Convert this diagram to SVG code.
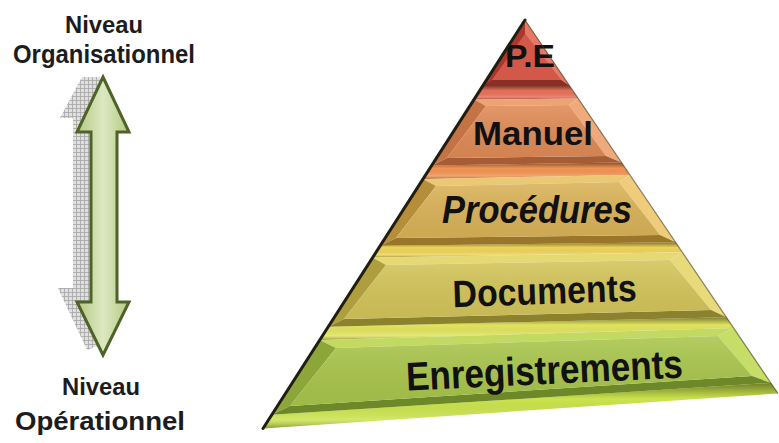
<svg xmlns="http://www.w3.org/2000/svg" width="779" height="443" viewBox="0 0 779 443">
<defs>
<style>
.lbl{font-family:"Liberation Sans",Arial,sans-serif;font-weight:bold;fill:#1c1c1c;text-anchor:middle}
.tier{font-family:"Liberation Sans",Arial,sans-serif;font-weight:bold;fill:#111;text-anchor:middle}
.edge{stroke:#000;stroke-opacity:0.25;stroke-width:0.6}
</style>
<pattern id="grid" width="4" height="4" patternUnits="userSpaceOnUse">
<rect width="4" height="4" fill="#dcdcdc"/>
<path d="M0 0.5H4M0.5 0V4" stroke="#9a9a9a" stroke-width="0.8"/>
</pattern>
<linearGradient id="arrowFill" x1="0" y1="0" x2="1" y2="0">
<stop offset="0" stop-color="#b4ca82"/>
<stop offset="0.5" stop-color="#dce8c2"/>
<stop offset="1" stop-color="#b4ca82"/>
</linearGradient>
<linearGradient id="stripShade" x1="0" y1="0" x2="0" y2="1">
<stop offset="0" stop-color="#000" stop-opacity="0.45"/>
<stop offset="0.35" stop-color="#000" stop-opacity="0"/>
<stop offset="0.8" stop-color="#fff" stop-opacity="0.15"/>
<stop offset="1" stop-color="#000" stop-opacity="0.35"/>
</linearGradient>
<linearGradient id="faceShade" x1="0" y1="0" x2="0" y2="1">
<stop offset="0" stop-color="#fff" stop-opacity="0.12"/>
<stop offset="1" stop-color="#000" stop-opacity="0.06"/>
</linearGradient>
</defs>
<rect width="779" height="443" fill="#fff"/>

<g id="label-top">
<text class="lbl" x="104" y="33" font-size="23" textLength="78" lengthAdjust="spacingAndGlyphs">Niveau</text>
<text class="lbl" x="104" y="63" font-size="25" textLength="182" lengthAdjust="spacingAndGlyphs">Organisationnel</text>
</g>
<g id="label-bottom">
<text class="lbl" x="101" y="395" font-size="23" textLength="78" lengthAdjust="spacingAndGlyphs">Niveau</text>
<text class="lbl" x="100" y="430" font-size="26" textLength="170" lengthAdjust="spacingAndGlyphs">Opérationnel</text>
</g>

<g id="connectors">
<polygon points="82,77 100,77 100,345 87,350 58,288 73,288 73,118 60,118" fill="url(#grid)" opacity="0.9"/>
<polygon points="103,77 129,132 117,132 117,302 129,302 103,355 77,302 91,302 91,132 77,132" fill="url(#arrowFill)" stroke="#4f6228" stroke-width="3" stroke-linejoin="miter"/>
</g>

<g id="pyramid">
<!-- strips (top surfaces) -->
<g id="strips">
<polygon points="482.6,86 569.7,86 578.6,98.5 474.3,99.5" fill="#e8705a"/>
<polygon points="482.6,86 569.7,86 578.6,98.5 474.3,99.5" fill="url(#stripShade)"/>
<polygon points="431.7,165.4 621.6,162.5 630,174.9 422.9,179" fill="#f29454"/>
<polygon points="431.7,165.4 621.6,162.5 630,174.9 422.9,179" fill="url(#stripShade)"/>
<polygon points="380.1,245.7 675.7,242.2 682.5,252.3 372.5,257.6" fill="#eed458"/>
<polygon points="380.1,245.7 675.7,242.2 682.5,252.3 372.5,257.6" fill="url(#stripShade)"/>
<polygon points="328.1,326.7 726.5,317.2 733.8,327.9 319.6,340" fill="#e2e45e"/>
<polygon points="328.1,326.7 726.5,317.2 733.8,327.9 319.6,340" fill="url(#stripShade)"/>
<polygon points="271.4,414.8 771,382.9 778.2,393.5 263,428.5" fill="#cbe44c"/>
<polygon points="271.4,414.8 771,382.9 778.2,393.5 263,428.5" fill="url(#stripShade)"/>
</g>

<g id="tier-pe">
<polygon points="525,20 569.7,86 482.6,86" fill="#c84a3e"/>
<polygon points="525,20 525,34 492,80 482.6,86" fill="#a8382e"/>
<polygon points="525,20 569.7,86 561,80 525,34" fill="#e27a68"/>
<polygon points="482.6,86 569.7,86 561,80 492,80" fill="#8a2e26"/>
<polygon points="525,34 561,80 492,80" fill="#d4584a"/>
<text class="tier" x="530" y="67" font-size="31" textLength="50" lengthAdjust="spacingAndGlyphs">P.E</text>
</g>

<g id="tier-manuel">
<polygon points="474.3,99.5 578.6,98.5 569,105 486,106" fill="#eca474"/>
<polygon points="474.3,99.5 486,106 447,158 431.7,165.4" fill="#c47444"/>
<polygon points="578.6,98.5 621.6,162.5 606,156 569,105" fill="#eeaa7c"/>
<polygon points="431.7,165.4 447,158 606,156 621.6,162.5" fill="#a65c34"/>
<polygon points="486,106 569,105 606,156 447,158" fill="#e08b56"/>
<polygon points="486,106 569,105 606,156 447,158" fill="url(#faceShade)"/>
<text class="tier" x="533" y="145" font-size="34" textLength="120" lengthAdjust="spacingAndGlyphs">Manuel</text>
</g>

<g id="tier-procedures">
<polygon points="422.9,179 630,174.9 619,182 436,186" fill="#eac874"/>
<polygon points="422.9,179 436,186 396,238 380.1,245.7" fill="#b68e3a"/>
<polygon points="630,174.9 675.7,242.2 660,235 619,182" fill="#eecc7c"/>
<polygon points="380.1,245.7 396,238 660,235 675.7,242.2" fill="#9a762a"/>
<polygon points="436,186 619,182 660,235 396,238" fill="#dbb358"/>
<polygon points="436,186 619,182 660,235 396,238" fill="url(#faceShade)"/>
<text class="tier" x="537" y="223" font-size="38" font-style="italic" textLength="190" lengthAdjust="spacingAndGlyphs">Procédures</text>
</g>

<g id="tier-documents">
<polygon points="372.5,257.6 682.5,252.3 670,260 386,265" fill="#e6d974"/>
<polygon points="372.5,257.6 386,265 344,319 328.1,326.7" fill="#ae9e3e"/>
<polygon points="682.5,252.3 726.5,317.2 711,310 670,260" fill="#e8da7a"/>
<polygon points="328.1,326.7 344,319 711,310 726.5,317.2" fill="#8c822e"/>
<polygon points="386,265 670,260 711,310 344,319" fill="#d4c55a"/>
<polygon points="386,265 670,260 711,310 344,319" fill="url(#faceShade)"/>
<text class="tier" x="545" y="304" font-size="38" textLength="184" lengthAdjust="spacingAndGlyphs" transform="rotate(-2 545 304)">Documents</text>
</g>

<g id="tier-enregistrements">
<polygon points="319.6,340 733.8,327.9 718,336 336,348" fill="#c2da62"/>
<polygon points="319.6,340 336,348 290,406 271.4,414.8" fill="#8ca63a"/>
<polygon points="733.8,327.9 771,382.9 752,376 718,336" fill="#c6de68"/>
<polygon points="271.4,414.8 290,406 752,376 771,382.9" fill="#6c8828"/>
<polygon points="336,348 718,336 752,376 290,406" fill="#aac64c"/>
<polygon points="336,348 718,336 752,376 290,406" fill="url(#faceShade)"/>
<text class="tier" x="545" y="384" font-size="40" textLength="277" lengthAdjust="spacingAndGlyphs" transform="rotate(-2.7 545 384)">Enregistrements</text>
</g>

<g id="outline">
<line x1="525" y1="20" x2="263" y2="428.5" stroke="#1e1e14" stroke-width="3" stroke-linecap="round"/>
<line x1="525" y1="20" x2="778" y2="393.5" stroke="#4a3a18" stroke-width="1.2" stroke-opacity="0.6"/>
</g>
</g>
</svg>
